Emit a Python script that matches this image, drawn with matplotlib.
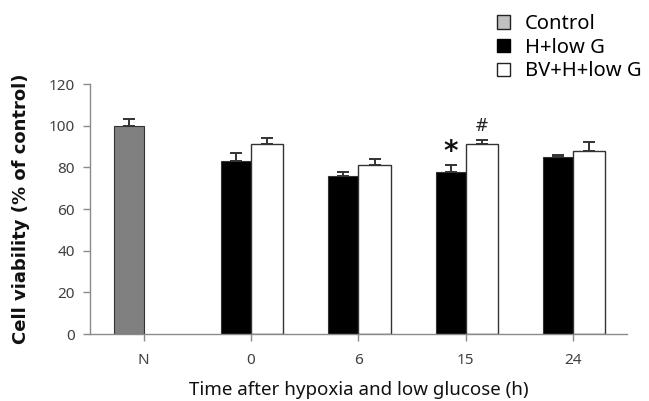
import matplotlib
matplotlib.use("Agg")
import matplotlib.pyplot as plt
import matplotlib.patches as mpatches
import numpy as np

plt.rcParams['font.family'] = ['Noto Sans', 'DejaVu Sans']

categories = ['N', '0', '6', '15', '24']
h_low_g = [100, 83, 76, 78, 85]          # first slot (Control at N, H+low G otherwise)
h_low_g_err = [3, 4, 2, 3, 1]
bv_h_low_g = [np.nan, 91, 81, 91, 88]
bv_h_low_g_err = [np.nan, 3.3, 2.8, 2, 4]
first_colors = ['#808080', '#000000', '#000000', '#000000', '#000000']
yticks = [0, 20, 40, 60, 80, 100, 120]

fig = plt.figure(figsize=(6.49, 4.01), dpi=100)
ax = fig.add_axes([0.1387, 0.167, 0.966 - 0.1387, 0.7905 - 0.167])

x = np.arange(len(categories))
w = 0.28
ax.bar(x - w, h_low_g, width=w, align='edge', color=first_colors,
       edgecolor='#333333', linewidth=0.8, zorder=2)
ax.errorbar(x - w / 2, h_low_g, yerr=[np.zeros(len(x)), h_low_g_err], fmt='none',
            ecolor='#333333', elinewidth=1.4, capsize=4.5, capthick=1.4, zorder=3)
mask = ~np.isnan(bv_h_low_g)
ax.bar(x[mask], np.array(bv_h_low_g)[mask], width=w + 0.02, align='edge', color='white',
       edgecolor='#333333', linewidth=1.0, zorder=2)
ax.errorbar(x[mask] + (w + 0.02) / 2, np.array(bv_h_low_g)[mask],
            yerr=[np.zeros(mask.sum()), np.array(bv_h_low_g_err)[mask]], fmt='none',
            ecolor='#333333', elinewidth=1.4, capsize=4.5, capthick=1.4, zorder=3)

# significance markers
ax.text(3 - w / 2, h_low_g[3] + h_low_g_err[3] - 0.5, '*', ha='center', va='bottom',
        fontsize=20, fontweight='bold', color='#111111', family='DejaVu Sans')
ax.text(3 + (w + 0.02) / 2, bv_h_low_g[3] + bv_h_low_g_err[3] + 2.5, '#', ha='center',
        va='bottom', fontsize=12, color='#222222', family='DejaVu Sans')

ax.set_xlim(-0.5, 4.5)
ax.set_ylim(0, 120)
ax.set_yticks(yticks)
ax.set_xticks(x)
ax.set_xticklabels(categories)
for s in ['top', 'right']:
    ax.spines[s].set_visible(False)
for s in ['left', 'bottom']:
    ax.spines[s].set_color('#8a8a8a')
    ax.spines[s].set_linewidth(1.0)
ax.tick_params(axis='both', colors='#8a8a8a', labelcolor='#404040', labelsize=11,
               length=5, width=1.0)
ax.tick_params(axis='x', pad=9)
ax.tick_params(axis='y', pad=6)

ax.set_ylabel('Cell viability (% of control)', fontsize=13, fontweight='bold',
              color='#111111', labelpad=13, family='DejaVu Sans')
ax.set_xlabel('Time after hypoxia and low glucose (h)', fontsize=13.5, color='#111111',
              labelpad=9)

handles = [mpatches.Patch(facecolor='#c0c0c0', edgecolor='#222222', linewidth=1.0, label='Control'),
           mpatches.Patch(facecolor='#000000', edgecolor='#000000', linewidth=1.0, label='H+low G'),
           mpatches.Patch(facecolor='white', edgecolor='#222222', linewidth=1.0, label='BV+H+low G')]
fig.legend(handles=handles, loc='upper right', bbox_to_anchor=(1.01, 1.0), frameon=False,
           fontsize=14.5, handlelength=0.65, handleheight=0.65, handletextpad=0.75,
           labelspacing=0.18, borderaxespad=0.3)

fig.savefig('out.png', dpi=100)
